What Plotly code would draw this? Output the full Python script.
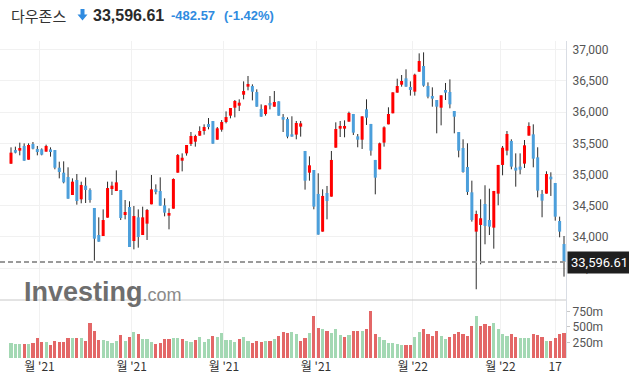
import plotly.graph_objects as go

# ---------------- data ----------------
opens = [35173, 35392, 35382, 35457, 35237, 35489, 35409, 35403, 35366, 35403,
         35392, 35109, 35029, 34960, 34671, 34912, 34602, 34821, 34751, 34463,
         34030, 34014, 34308, 34767, 34735, 34751, 34350, 34479, 33934, 34313,
         34030, 34212, 34522, 34762, 34735, 34505, 34340, 34452, 35029, 35221,
         35339, 35489, 35526, 35622, 35697, 35809, 35857, 35558, 35718, 35841,
         35943, 36071, 36103, 36279, 36408, 36418, 36322, 36050, 35969, 36146,
         36087, 36173, 35921, 35890, 35644, 35639, 35767, 35377, 35029, 35072,
         34688, 34084, 34704, 34645, 35430, 35735, 35735, 35847, 35970, 35612,
         35558, 36045, 35810, 35233, 35083, 35511, 35804, 35981, 36312, 36440,
         36541, 36403, 36328, 36648, 36739, 36419, 36258, 36194, 36071, 36355,
         36323, 36018, 35681, 35425, 35120, 34714, 34084, 34191, 34527, 34271,
         34148, 34693, 35153, 35382, 35537, 35110, 35126, 35174, 35623, 35644,
         35275, 34688, 34693, 34965, 34864, 34255, 33886]
highs = [35435, 35446, 35510, 35499, 35499, 35521, 35457, 35419, 35478, 35435,
         35392, 35205, 35211, 35115, 34938, 35008, 34885, 34954, 34778, 34463,
         34313, 34441, 34885, 34885, 35066, 34751, 34591, 34570, 34495, 34441,
         34484, 34447, 34992, 34842, 34954, 34618, 34457, 34938, 35328, 35339,
         35473, 35681, 35638, 35772, 35804, 35905, 35857, 35761, 35873, 36012,
         36066, 36194, 36205, 36493, 36579, 36445, 36365, 36124, 36108, 36258,
         36338, 36173, 35969, 35916, 35933, 35858, 35858, 35377, 35291, 35072,
         35019, 34762, 34816, 35377, 35836, 35858, 35868, 36007, 35970, 35649,
         35932, 36205, 35810, 35233, 35511, 35772, 36077, 36317, 36536, 36595,
         36686, 36493, 36616, 36942, 36958, 36477, 36397, 36194, 36269, 36467,
         36525, 36018, 35681, 35564, 35500, 34901, 34420, 34602, 34827, 34773,
         34736, 35153, 35457, 35697, 35564, 35339, 35339, 35553, 35836, 35804,
         35436, 34752, 35051, 35035, 34864, 34324, 34014]
lows = [35170, 35339, 35307, 35221, 35237, 35403, 35307, 35307, 35366, 35286,
        35083, 34938, 34858, 34612, 34671, 34516, 34538, 34543, 34548, 33619,
        33923, 34014, 34308, 34671, 34735, 34270, 34281, 33838, 33800, 33827,
        34030, 33950, 34522, 34682, 34500, 34329, 34121, 34452, 35029, 35050,
        35302, 35457, 35446, 35622, 35638, 35724, 35494, 35558, 35686, 35820,
        35900, 35916, 36017, 36205, 36349, 36188, 36087, 35927, 35943, 36044,
        36087, 35943, 35681, 35580, 35607, 35564, 35607, 34757, 34901, 34442,
        34036, 34084, 34281, 34645, 35430, 35601, 35596, 35847, 35633, 35436,
        35409, 35794, 35302, 34682, 35083, 35446, 35804, 35981, 36312, 36408,
        36408, 36264, 36264, 36648, 36408, 36221, 36087, 35660, 35788, 36194,
        36061, 35660, 35275, 35029, 34672, 34244, 33160, 33560, 33881, 34030,
        33811, 34506, 34987, 35307, 35083, 34805, 35003, 35104, 35623, 35115,
        34634, 34314, 34693, 34656, 34260, 33993, 33363]
closes = [35350, 35350, 35424, 35221, 35473, 35414, 35360, 35318, 35457, 35360,
          35109, 35040, 34874, 34612, 34885, 34575, 34831, 34751, 34591, 33971,
          33923, 34270, 34783, 34821, 34874, 34302, 34399, 33838, 34334, 33998,
          34313, 34431, 34762, 34719, 34500, 34388, 34383, 34928, 35312, 35269,
          35473, 35617, 35617, 35697, 35761, 35761, 35494, 35740, 35841, 35921,
          36066, 36178, 36151, 36338, 36450, 36327, 36087, 35927, 36108, 36108,
          36162, 35943, 35879, 35607, 35607, 35826, 35820, 34901, 35147, 34485,
          34036, 34656, 34575, 35233, 35729, 35778, 35778, 35986, 35671, 35558,
          35932, 35911, 35382, 34949, 35500, 35756, 35970, 36317, 36419, 36499,
          36408, 36355, 36600, 36819, 36424, 36248, 36216, 36087, 36269, 36312,
          36125, 35927, 35382, 35040, 34720, 34271, 34367, 34298, 34175, 34164,
          34736, 35153, 35430, 35649, 35126, 35062, 35078, 35468, 35778, 35254,
          34741, 34581, 35008, 34923, 34324, 34084, 33596.61]
volumes_m = [247, 231, 231, 231, 231, 247, 328, 263, 263, 215,
             280, 263, 263, 328, 328, 328, 328, 280, 570, 441,
             296, 296, 280, 247, 280, 376, 280, 344, 425, 392,
             312, 312, 263, 231, 247, 312, 312, 328, 328, 312,
             280, 263, 296, 344, 263, 312, 360, 344, 409, 296,
             296, 263, 312, 344, 280, 247, 280, 263, 280, 280,
             312, 360, 425, 409, 425, 392, 280, 328, 409, 683,
             489, 473, 441, 409, 473, 376, 344, 366, 441, 441,
             441, 473, 758, 392, 344, 296, 247, 247, 231, 215,
             204, 215, 344, 425, 473, 392, 360, 441, 360, 312,
             344, 392, 425, 392, 360, 521, 683, 521, 554, 521,
             570, 473, 392, 360, 392, 344, 328, 328, 328, 392,
             376, 344, 280, 280, 323, 392, 409]
# 1 = close above previous close (green volume), 0 = below (red volume)
volume_up = [1, 1, 1, 0, 1, 0, 0, 0, 1, 0,
             0, 0, 0, 0, 1, 0, 1, 0, 0, 0,
             0, 1, 1, 1, 1, 0, 1, 0, 1, 0,
             1, 1, 1, 0, 0, 0, 0, 1, 1, 0,
             1, 1, 0, 1, 1, 1, 0, 1, 1, 1,
             1, 1, 0, 1, 1, 0, 0, 0, 1, 0,
             1, 0, 0, 0, 1, 1, 0, 0, 1, 0,
             0, 1, 0, 1, 1, 1, 0, 1, 0, 0,
             1, 0, 0, 0, 1, 1, 1, 1, 1, 1,
             0, 0, 1, 1, 0, 0, 0, 0, 1, 1,
             0, 0, 0, 0, 0, 0, 1, 0, 0, 0,
             1, 1, 1, 1, 0, 0, 1, 1, 1, 0,
             0, 0, 1, 0, 0, 0, 0]
month_tick_pos = [6.5, 27.5, 48.5, 69.5, 91.5, 111.5, 124]
month_tick_text = ["월 '21", "월 '21", "월 '21", "월 '21", "월 '22", "월 '22", "17"]
price_ticks = [33500, 34000, 34500, 35000, 35500, 36000, 36500, 37000]
volume_ticks = [250e6, 500e6, 750e6]
volume_tick_text = ["250m", "500m", "750m"]
last_price = 33596.61
change_text = "-482.57"
change_pct_text = "(-1.42%)"
title_text = "다우존스"

# ---------------- styles ----------------
UP_C = "#ff0000"
DOWN_C = "#4c9fdb"
WICK_C = "#2b2b2b"
VOL_UP = "#a3d8b3"
VOL_DN = "#e36767"
W, H = 629, 383
L, R, T, B = 0, 63, 41, 25
PW, PH = W - L - R, H - T - B
VOL_FRAC = (358 - 300) / PH


def PX(px):
    return (px - L) / PW


def PY(py):
    return (H - B - py) / PH


n = len(closes)
xs = list(range(n))

# wicks
wx, wy = [], []
for i in xs:
    wx += [i, i, None]
    wy += [lows[i], highs[i], None]

# bodies as thick line segments (drawn above the wicks)
MIN_BODY = 22
ux, uy, dx, dy = [], [], [], []
for i in xs:
    o, c = opens[i], closes[i]
    lo, hi = min(o, c), max(o, c)
    if hi - lo < MIN_BODY:
        mid = (hi + lo) / 2
        lo, hi = mid - MIN_BODY / 2, mid + MIN_BODY / 2
    if c >= o:
        ux += [i, i, None]
        uy += [lo, hi, None]
    else:
        dx += [i, i, None]
        dy += [lo, hi, None]

vol_col = [VOL_UP if u else VOL_DN for u in volume_up]
volumes = [v * 1e6 for v in volumes_m]

fig = go.Figure()
fig.add_trace(go.Bar(x=xs, y=volumes, width=0.72,
                     marker=dict(color=vol_col, line=dict(width=0)),
                     xaxis="x", yaxis="y2", showlegend=False))
fig.add_trace(go.Scatter(x=wx, y=wy, mode="lines", line=dict(color=WICK_C, width=1),
                         xaxis="x", yaxis="y", hoverinfo="skip", showlegend=False))
fig.add_trace(go.Scatter(x=ux, y=uy, mode="lines", line=dict(color=UP_C, width=3),
                         xaxis="x", yaxis="y", hoverinfo="skip", showlegend=False))
fig.add_trace(go.Scatter(x=dx, y=dy, mode="lines", line=dict(color=DOWN_C, width=3),
                         xaxis="x", yaxis="y", hoverinfo="skip", showlegend=False))

x_lo = -11 / 4.389
x_hi = (566 - 11) / 4.389

fig.update_layout(
    width=W, height=H, autosize=False,
    margin=dict(l=L, r=R, t=T, b=B),
    paper_bgcolor="white", plot_bgcolor="white",
    bargap=0,
    xaxis=dict(domain=[0, 1], anchor="y2", range=[x_lo, x_hi],
               tickmode="array", tickvals=month_tick_pos, ticktext=month_tick_text,
               showgrid=True, gridcolor="#f1f1f1", gridwidth=1, zeroline=False,
               ticks="", showline=False,
               tickfont=dict(family="Noto Sans CJK KR", size=12, color="#333")),
    yaxis=dict(domain=[VOL_FRAC, 1], anchor="x", side="right",
               range=[32988, 37140], tickmode="array", tickvals=price_ticks,
               tickformat=",", showgrid=True, gridcolor="#f1f1f1", zeroline=False,
               showline=True, linecolor="#d9dde4", linewidth=1,
               ticks="outside", ticklen=3, tickcolor="white",
               tickfont=dict(family="Roboto", size=12, color="#555")),
    yaxis2=dict(domain=[0, VOL_FRAC], anchor="x", side="right",
                range=[0, 935e6], tickmode="array", tickvals=volume_ticks,
                ticktext=volume_tick_text, showgrid=False, zeroline=False,
                showline=True, linecolor="#d9dde4", linewidth=1,
                ticks="outside", ticklen=3, tickcolor="#c8c8c8",
                tickfont=dict(family="Roboto", size=12, color="#555")),
)

shapes = []
shapes.append(dict(type="line", xref="paper", yref="paper", x0=0, x1=1,
                   y0=VOL_FRAC, y1=VOL_FRAC, line=dict(color="#c8c8c8", width=1)))
shapes.append(dict(type="line", xref="paper", yref="y", x0=0, x1=1,
                   y0=last_price, y1=last_price,
                   line=dict(color="#9a9a9a", width=2, dash="5px,3px")))
ax = [80.5, 84.5, 84.5, 87.5, 82.5, 77.5, 80.5]
ay = [9, 9, 14.5, 14.5, 20.5, 14.5, 14.5]
path = "M " + " L ".join(f"{PX(a):.5f},{PY(b):.5f}" for a, b in zip(ax, ay)) + " Z"
shapes.append(dict(type="path", xref="paper", yref="paper", path=path,
                   fillcolor="#2f8be0", line=dict(width=0)))
fig.update_layout(shapes=shapes)

ann = []
ann.append(dict(text=title_text, x=PX(9), y=PY(15), xref="paper", yref="paper",
                xanchor="left", yanchor="middle", showarrow=False,
                font=dict(family="Noto Sans CJK KR", size=15, color="#333")))
ann.append(dict(text=f"<b>{last_price:,.2f}</b>", x=PX(91), y=PY(15), xref="paper", yref="paper",
                xanchor="left", yanchor="middle", showarrow=False,
                font=dict(family="Liberation Sans", size=16, color="#2a2a2a")))
ann.append(dict(text=f"<b>{change_text}</b>", x=PX(169), y=PY(15.5), xref="paper", yref="paper",
                xanchor="left", yanchor="middle", showarrow=False,
                font=dict(family="Liberation Sans", size=13, color="#2f8be0")))
ann.append(dict(text=f"<b>{change_pct_text}</b>", x=PX(222), y=PY(15.5), xref="paper", yref="paper",
                xanchor="left", yanchor="middle", showarrow=False,
                font=dict(family="Liberation Sans", size=13, color="#2f8be0")))
ann.append(dict(text="<b>Investing</b><span style='font-size:18px;font-weight:normal;color:#8a8a8a'>.com</span>",
                x=PX(22), y=PY(292), xref="paper", yref="paper",
                xanchor="left", yanchor="middle", showarrow=False,
                font=dict(family="Liberation Sans", size=27, color="#6e6e6e")))
ann.append(dict(text=f"{last_price:,.2f}", x=PX(567), y=last_price, xref="paper", yref="y",
                xanchor="left", yanchor="middle", showarrow=False,
                bgcolor="#1f1f1f", borderpad=3,
                font=dict(family="Roboto", size=13, color="white")))
fig.update_layout(annotations=ann)

fig.write_html("out.html", config={"displayModeBar": False},
               post_script="document.body.style.margin='0';")
